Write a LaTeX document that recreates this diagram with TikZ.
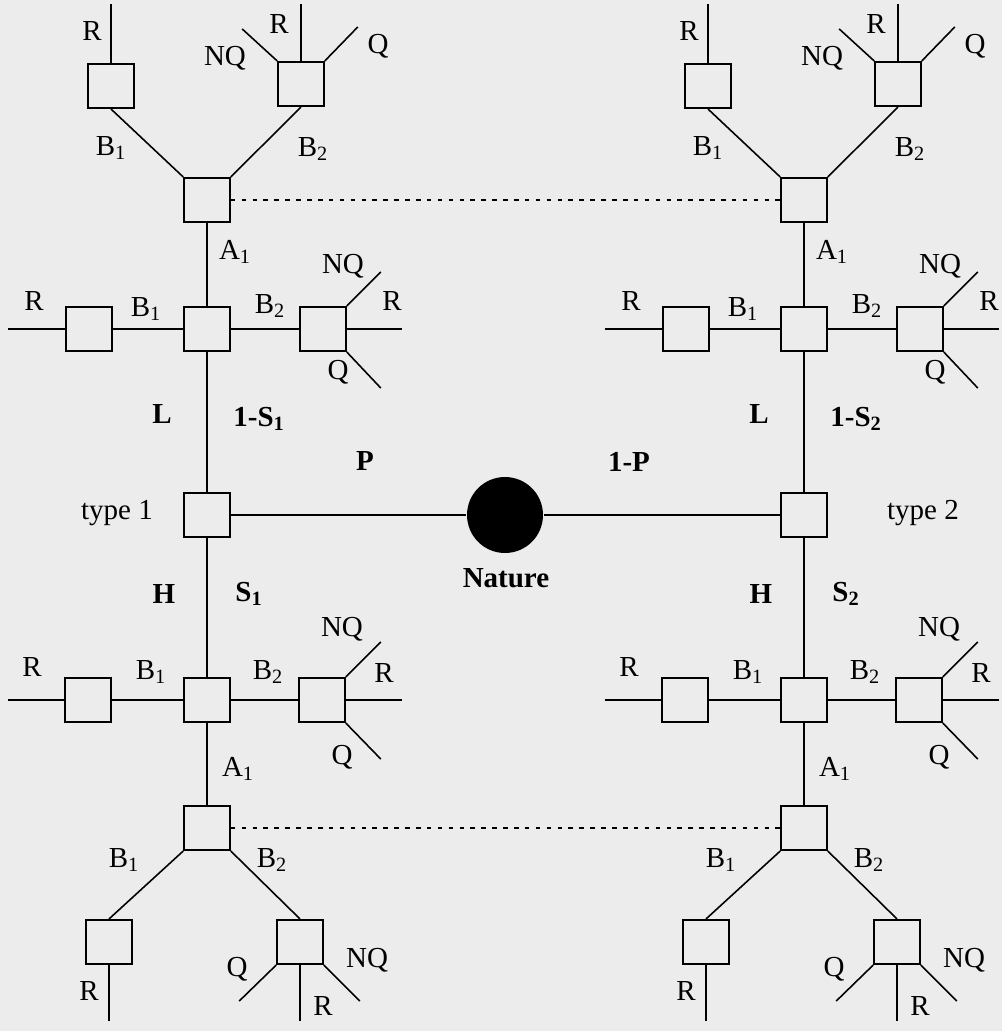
\documentclass[tikz,border=0pt]{standalone}
\usepackage{fontspec}
\setmainfont{Liberation Serif}
\definecolor{paper}{RGB}{236,236,236}

\begin{document}
\begin{tikzpicture}[x=0.02cm, y=-0.02cm, line width=0.9pt,
  every node/.style={font=\fontsize{16.5}{19}\selectfont},
  box/.style={draw, minimum width=0.92cm, minimum height=0.89cm, inner sep=0pt},
  lbl/.style={inner sep=0pt},
  blbl/.style={inner sep=0pt, font=\fontsize{16.5}{19}\selectfont\bfseries},
  infoset/.style={line width=1.5pt, dash pattern=on 2.6pt off 3.6pt}]

  % Paper
  \fill[paper] (0,0) rectangle (1002,1031);

  \foreach \s/\dx/\n in {a/0/1, b/597/2} {
  \begin{scope}[shift={(\dx,0)}]
    % Upper A1 node and its leaves
    \node[box] (\s-ta) at (207,200) {};
    \node[box] (\s-tl) at (111,86) {};
    \node[box] (\s-tr) at (301,84) {};
    \draw (\s-ta.north west) -- (\s-tl.south);
    \draw (\s-ta.north east) -- (\s-tr.south);
    \draw (\s-tl.north) -- ++(0,-59);
    \draw (\s-tr.north) -- ++(0,-57);
    \draw (\s-tr.north west) -- ++(-35,-32);
    \draw (\s-tr.north east) -- ++(33,-34);

    \node[lbl] (\s-tlR) at (92,31) {R};
    \node[lbl] (\s-trNQ) at (225,58) {NQ};
    \node[lbl] (\s-trR) at (279,24) {R};
    \node[lbl] (\s-trQ) at (378,46) {Q};
    \node[lbl] (\s-tB1) at (111,148) {B\textsubscript{1}};
    \node[lbl] (\s-tB2) at (313,149) {B\textsubscript{2}};
    \node[lbl] (\s-tA1) at (235,252) {A\textsubscript{1}};

    % Upper row (L)
    \coordinate (\s-uw) at (8,329);
    \coordinate (\s-ue) at (402,329);
    \node[box] (\s-um) at (207,329) {};
    \node[box] (\s-ul) at (89,329) {};
    \node[box] (\s-ur) at (323,329) {};
    \draw (\s-uw) -- (\s-ul) -- (\s-um) -- (\s-ur) -- (\s-ue);
    \draw (\s-ur.north east) -- ++(34,-34);
    \draw (\s-ur.south east) -- ++(34,36);

    \node[lbl] (\s-ulR) at (34,301) {R};
    \node[lbl] (\s-uB1) at (146,309) {B\textsubscript{1}};
    \node[lbl] (\s-uB2) at (270,306) {B\textsubscript{2}};
    \node[lbl] (\s-urNQ) at (343,266) {NQ};
    \node[lbl] (\s-urR) at (392,301) {R};
    \node[lbl] (\s-urQ) at (338,372) {Q};

    % Type node
    \node[box] (\s-ty) at (207,515) {};
    \node[blbl] (\s-L) at (162,414) {L};
    \node[blbl] (\s-pL) at (259,419) {1-S\textsubscript{\n}};
    \node[blbl] (\s-H) at (164,594) {H};
    \node[blbl] (\s-pH) at (249,594) {S\textsubscript{\n}};

    % Lower row (H)
    \coordinate (\s-lw) at (8,700);
    \coordinate (\s-le) at (402,700);
    \node[box] (\s-lm) at (207,700) {};
    \node[box] (\s-ll) at (88,700) {};
    \node[box] (\s-lr) at (322,700) {};
    \draw (\s-lw) -- (\s-ll) -- (\s-lm) -- (\s-lr) -- (\s-le);
    \draw (\s-lr.north east) -- ++(35,-35);
    \draw (\s-lr.south east) -- ++(35,36);

    \node[lbl] (\s-llR) at (32,667) {R};
    \node[lbl] (\s-lB1) at (151,672) {B\textsubscript{1}};
    \node[lbl] (\s-lB2) at (268,672) {B\textsubscript{2}};
    \node[lbl] (\s-lrNQ) at (342,629) {NQ};
    \node[lbl] (\s-lrR) at (384,673) {R};
    \node[lbl] (\s-lrQ) at (342,757) {Q};
    \node[lbl] (\s-bA1) at (238,769) {A\textsubscript{1}};

    % Lower A1 node and its leaves
    \node[box] (\s-ba) at (207,828) {};
    \node[box] (\s-bl) at (109,942) {};
    \node[box] (\s-br) at (300,942) {};
    \draw (\s-ba.south west) -- (\s-bl.north);
    \draw (\s-ba.south east) -- (\s-br.north);
    \draw (\s-bl.south) -- ++(0,56);
    \draw (\s-br.south) -- ++(0,56);
    \draw (\s-br.south west) -- ++(-37,36);
    \draw (\s-br.south east) -- ++(36,36);

    \node[lbl] (\s-bB1) at (124,860) {B\textsubscript{1}};
    \node[lbl] (\s-bB2) at (272,860) {B\textsubscript{2}};
    \node[lbl] (\s-blR) at (89,991) {R};
    \node[lbl] (\s-brQ) at (237,969) {Q};
    \node[lbl] (\s-brNQ) at (367,960) {NQ};
    \node[lbl] (\s-brR) at (323,1006) {R};

    % Trunk
    \draw (\s-ta) -- (\s-um) -- (\s-ty) -- (\s-lm) -- (\s-ba);
  \end{scope}
  }

  % Nature
  \node[circle, fill=black, minimum size=1.52cm, inner sep=0pt] (nature) at (505,515) {};
  \node[blbl] (naturelbl) at (506,578) {Nature};
  \draw (a-ty) -- (nature) -- (b-ty);
  \node[blbl] (pl) at (365,461) {P};
  \node[blbl] (pr) at (629,462) {1-P};
  \node[lbl] (typea) at (117,513) {type 1};
  \node[lbl] (typeb) at (923,513) {type 2};

  % Information sets
  \draw[infoset] (a-ta) -- (b-ta);
  \draw[infoset] (a-ba) -- (b-ba);
\end{tikzpicture}
\end{document}
